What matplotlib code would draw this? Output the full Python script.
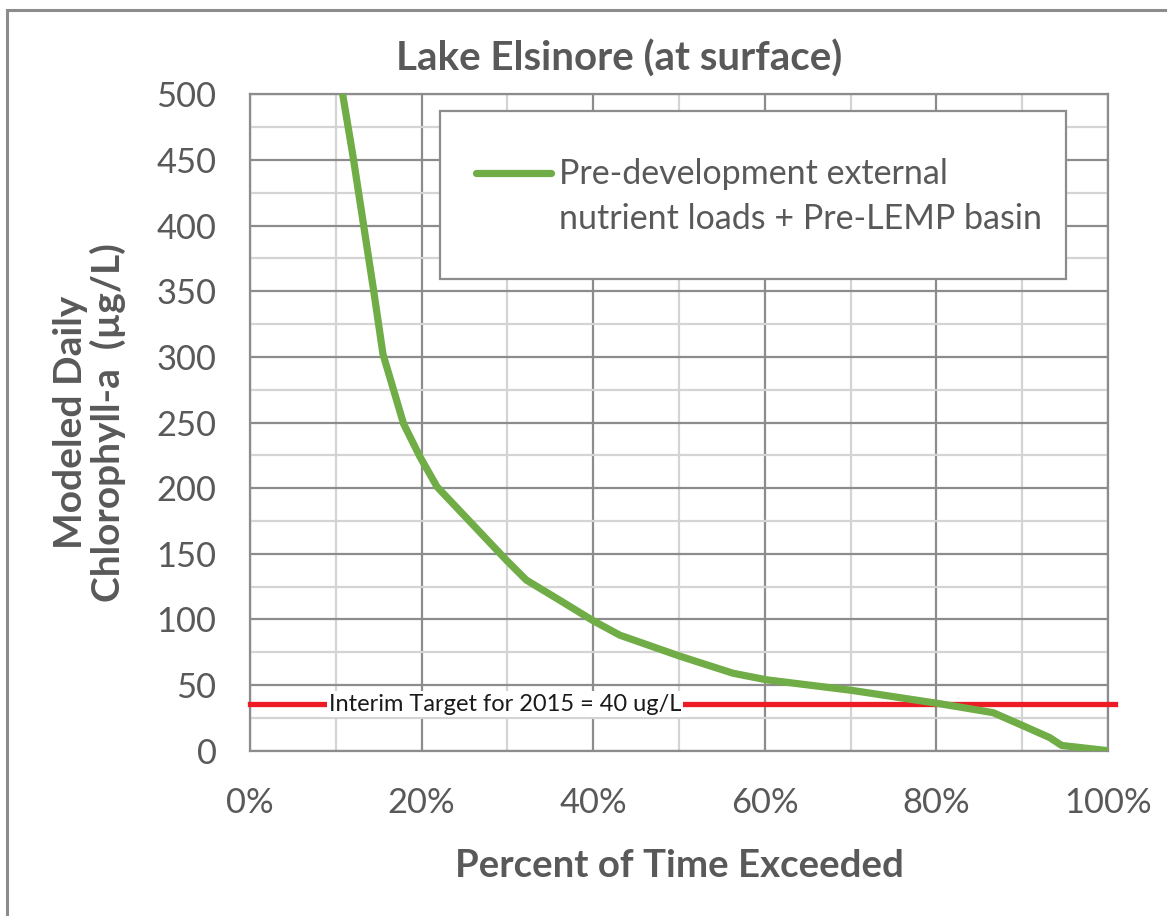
import numpy as np
import matplotlib
matplotlib.use("Agg")
import matplotlib.pyplot as plt
import matplotlib.patches as patches
from matplotlib.lines import Line2D
from matplotlib.ticker import MultipleLocator, PercentFormatter

plt.rcParams['font.family'] = ['Lato', 'DejaVu Sans']

# exceedance curve
pct_exceeded = [10.8, 12.0, 13.2, 14.4, 15.5, 17.9, 19.8, 21.8, 26.0, 29.9, 32.2,
                36.0, 40.0, 43.1, 50.1, 56.3, 60.2, 70.1, 80.2, 86.6, 90.1,
                93.2, 94.6, 100.0]
chla = [500, 453, 402, 351, 302, 249, 224, 201, 172, 145, 130,
        115, 99, 88, 72, 59, 54, 46, 36, 29, 19,
        10, 4, 0]
target_value = 35.5
target_label = "Interim Target for 2015 = 40 ug/L"
series_label = ["Pre-development external", "nutrient loads + Pre-LEMP basin"]

grey_txt = '#595959'
green = '#70AD47'
red = '#ED1C24'

fig = plt.figure(figsize=(11.67, 9.16), dpi=100)
ax = fig.add_axes([250/1167, 1-750.7/916, (1108-250)/1167, (750.7-94.3)/916])

ax.set_xlim(0, 100)
ax.set_ylim(0, 500)
ax.xaxis.set_major_locator(MultipleLocator(20))
ax.xaxis.set_minor_locator(MultipleLocator(10))
ax.yaxis.set_major_locator(MultipleLocator(50))
ax.yaxis.set_minor_locator(MultipleLocator(25))
ax.xaxis.set_major_formatter(PercentFormatter(decimals=0))
ax.grid(which='major', color='#8c8c8c', lw=1.6, zorder=0)
ax.grid(which='minor', color='#d4d4d4', lw=1.6, zorder=0)
ax.set_axisbelow(True)
for s in ax.spines.values():
    s.set_color('#8c8c8c')
    s.set_linewidth(1.6)
ax.tick_params(which='both', length=0, labelsize=24.8, labelcolor=grey_txt)
ax.tick_params(axis='y', pad=24)
ax.tick_params(axis='x', pad=26)

# target line + label
ax.axhline(target_value, xmin=0, xmax=1.008, color=red, lw=3.8, zorder=3, clip_on=False)
ax.text(29.7, target_value, target_label, fontsize=17, color='#1a1a1a', ha='center', va='center',
        zorder=4, bbox=dict(facecolor='white', edgecolor='none', pad=1.5))

line, = ax.plot(pct_exceeded, chla, color=green, lw=5.2, zorder=5, solid_capstyle='round')

# legend box drawn separately so the padding matches the original
ax.add_patch(patches.Rectangle(((440-250)/858, (750.7-279)/656.4), (1066-440)/858, 168/656.4,
                               transform=ax.transAxes, facecolor='white', edgecolor='#8c8c8c',
                               lw=1.6, zorder=6))
blank = Line2D([], [], color='none')
leg = ax.legend([line, blank], series_label, loc='upper left',
                bbox_to_anchor=((476-250)/858, (750.7-158.5)/656.4),
                fontsize=24.5, frameon=False, handlelength=2.2, handletextpad=0.25,
                labelspacing=0.38, borderpad=0, borderaxespad=0)
leg.set_zorder(7)
for t in leg.get_texts():
    t.set_color(grey_txt)

ax.set_title("Lake Elsinore (at surface)", fontsize=29, fontweight='bold', color=grey_txt,
             pad=17, x=(619-250)/858)
ax.set_xlabel("Percent of Time Exceeded", fontsize=27.6, fontweight='bold', color=grey_txt, labelpad=22)
ax.set_ylabel("Modeled Daily\nChlorophyll-a  (\u00b5g/L)", fontsize=28, fontweight='bold',
              color=grey_txt, labelpad=22, linespacing=1.05)

# chart frame (only left/top edges visible in the crop)
fig.patches.append(patches.Rectangle((7/1167, -0.1), 1.2, 1.1-10/916, transform=fig.transFigure,
                                     fill=False, edgecolor='#8c8c8c', lw=2.2))

fig.savefig("out.png", dpi=100)
